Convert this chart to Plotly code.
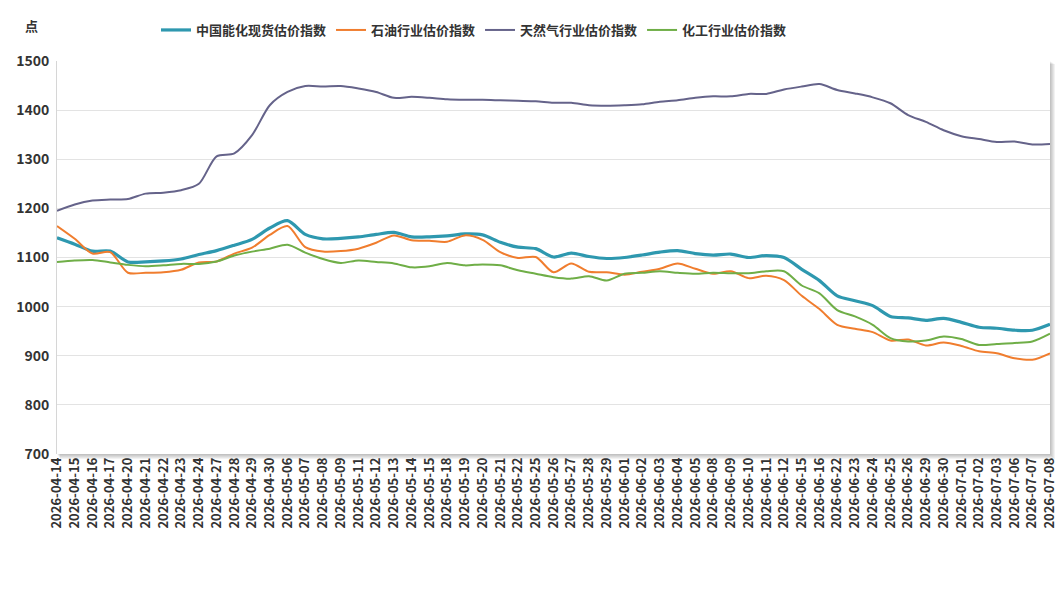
import plotly.graph_objects as go

dates = ["2026-04-14","2026-04-15","2026-04-16","2026-04-17","2026-04-20","2026-04-21","2026-04-22","2026-04-23",
         "2026-04-24","2026-04-27","2026-04-28","2026-04-29","2026-04-30","2026-05-06","2026-05-07","2026-05-08",
         "2026-05-09","2026-05-11","2026-05-12","2026-05-13","2026-05-14","2026-05-15","2026-05-18","2026-05-19",
         "2026-05-20","2026-05-21","2026-05-22","2026-05-25","2026-05-26","2026-05-27","2026-05-28","2026-05-29",
         "2026-06-01","2026-06-02","2026-06-03","2026-06-04","2026-06-05","2026-06-08","2026-06-09","2026-06-10",
         "2026-06-11","2026-06-12","2026-06-15","2026-06-16","2026-06-22","2026-06-23","2026-06-24","2026-06-25",
         "2026-06-26","2026-06-29","2026-06-30","2026-07-01","2026-07-02","2026-07-03","2026-07-06","2026-07-07",
         "2026-07-08"]

energy_chem = [1140,1127,1113,1113,1091,1091,1093,1097,1106,1114,1125,1137,1160,1175,1147,1138,1139,1142,1147,1151,
               1142,1142,1144,1148,1146,1131,1121,1118,1101,1109,1102,1098,1100,1105,1111,1114,1108,1105,1107,1100,
               1104,1100,1076,1053,1022,1012,1002,980,977,972,976,968,958,956,952,952,964]

oil = [1164,1138,1108,1111,1069,1069,1070,1075,1090,1092,1108,1120,1146,1164,1121,1112,1113,1118,1130,1145,
       1135,1134,1132,1145,1136,1111,1099,1101,1070,1088,1071,1070,1065,1071,1077,1088,1077,1067,1072,1058,
       1063,1054,1022,995,963,955,948,931,933,921,927,920,909,905,895,892,905]

gas = [1195,1208,1216,1218,1219,1230,1232,1237,1250,1306,1312,1349,1410,1437,1449,1448,1449,1444,1437,1425,
       1427,1425,1422,1421,1421,1420,1419,1418,1415,1415,1410,1409,1410,1412,1417,1420,1425,1428,1428,1433,
       1433,1442,1448,1453,1441,1434,1426,1414,1390,1376,1359,1347,1341,1335,1336,1330,1331]

chemical = [1091,1094,1095,1090,1085,1082,1084,1087,1087,1092,1104,1112,1118,1126,1110,1097,1089,1094,1091,1088,
            1080,1082,1089,1084,1086,1084,1074,1067,1060,1057,1062,1053,1067,1069,1072,1069,1067,1069,1068,1068,
            1072,1072,1043,1027,993,980,963,936,929,931,939,934,922,924,926,929,945]

series_names = ["中国能化现货估价指数", "石油行业估价指数", "天然气行业估价指数", "化工行业估价指数"]
series_values = [energy_chem, oil, gas, chemical]
colors = ["#2E98AF", "#F07D2E", "#65638A", "#6FAE47"]
widths = [3.2, 2, 2, 2]

W, H = 1061, 601
ML, MR, MT, MB = 57, 11, 61, 147
pw, ph = W - ML - MR, H - MT - MB

FONT = "Noto Sans CJK SC"

fig = go.Figure()
for name, vals, c, w in zip(series_names, series_values, colors, widths):
    fig.add_trace(go.Scatter(x=dates, y=vals, name=name, mode="lines",
                             line=dict(color=c, width=w, shape="spline", smoothing=0.8)))

shapes = []
for k in range(1, 6):
    shapes.append(dict(type="rect", xref="paper", yref="paper", layer="below",
                       x0=k / pw * 0.6, x1=1 + k / pw, y0=-k / ph, y1=1 - k / ph * 0.6,
                       fillcolor="rgba(0,0,0,0.05)", line=dict(width=0)))
shapes.append(dict(type="rect", xref="paper", yref="paper", layer="below",
                   x0=0, x1=1, y0=0, y1=1, fillcolor="white", line=dict(width=0)))

fig.update_layout(
    width=W, height=H,
    margin=dict(l=ML, r=MR, t=MT, b=MB, autoexpand=False),
    paper_bgcolor="white", plot_bgcolor="rgba(0,0,0,0)",
    font=dict(family=FONT, color="#333333"),
    shapes=shapes,
    showlegend=True,
    legend=dict(orientation="h", x=(156 - ML) / pw, xanchor="left",
                y=1 + (MT - 30) / ph, yanchor="middle",
                font=dict(family=FONT, size=13, color="#333333", weight="bold"),
                bgcolor="rgba(0,0,0,0)", itemwidth=30, tracegroupgap=0),
    annotations=[dict(text="点", xref="paper", yref="paper", x=(31 - ML) / pw, y=1 + (MT - 25) / ph,
                      xanchor="center", yanchor="middle", showarrow=False,
                      font=dict(family=FONT, size=13, color="#333333", weight="bold"))],
    hovermode=False,
)

fig.update_xaxes(type="category", range=[0, len(dates) - 1], showgrid=False, zeroline=False,
                 showline=False, ticks="", tickangle=-90,
                 tickfont=dict(family=FONT, size=13, color="#333333", weight="bold"))
fig.update_yaxes(range=[700, 1500], dtick=100, tick0=700, showgrid=True, gridcolor="#e3e3e3", gridwidth=1,
                 zeroline=False, showline=True, linecolor="#d6d6d6", linewidth=1, ticks="",
                 ticklabelstandoff=4,
                 tickfont=dict(family=FONT, size=14, color="#333333", weight="bold"))

fig.write_html("out.html")
